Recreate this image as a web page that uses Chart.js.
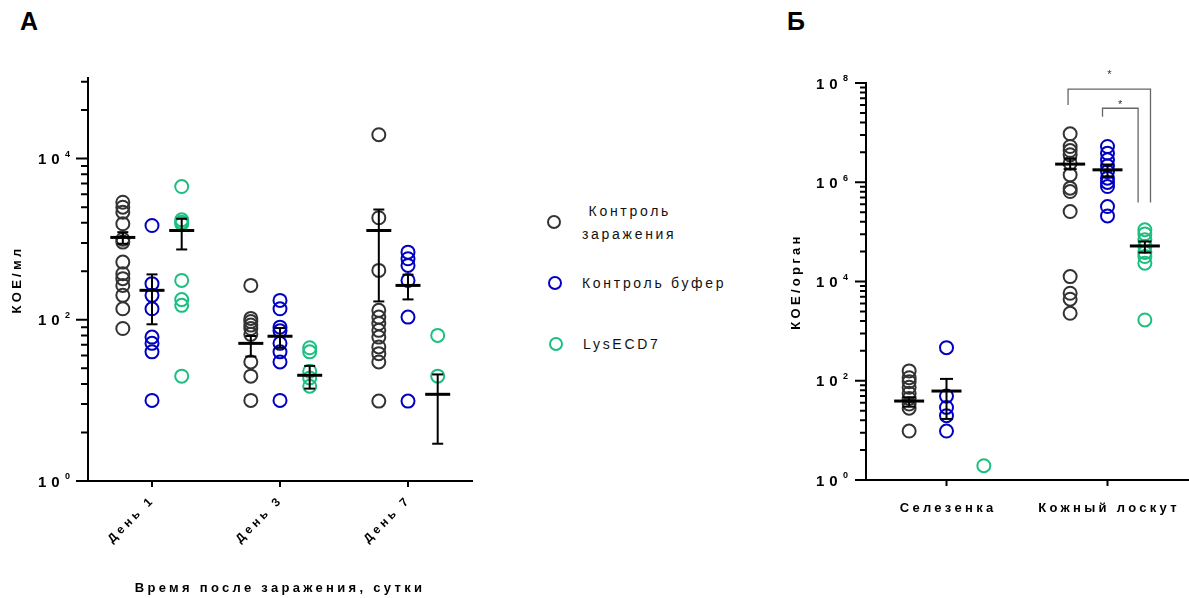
<!DOCTYPE html>
<html>
<head>
<meta charset="utf-8">
<script src="https://cdn.jsdelivr.net/npm/chart.js@4.4.1/dist/chart.umd.min.js"></script>
<style>
  body { margin: 0; background: #fff; font-family: "Liberation Sans", Arial, sans-serif; }
  #wrap { position: relative; width: 1189px; height: 598px; overflow: hidden; }
  canvas { position: absolute; top: 0; }
  .panel { position: absolute; top: 9px; font-weight: bold; font-size: 25px; line-height: 1; color: #000; }
  .lg { position: absolute; font-size: 14px; letter-spacing: 2.7px; color: #111; line-height: 23px; white-space: nowrap; }
  .dot { position: absolute; width: 10px; height: 10px; border-radius: 50%; border: 2.5px solid; }
</style>
</head>
<body>
<div id="wrap">
  <div class="panel" style="left:20px">А</div>
  <div class="panel" style="left:787px">Б</div>

  <div class="dot" style="left:547px;top:215px;border-color:#333333"></div>
  <div class="lg" style="left:582px;top:200px">&nbsp;Контроль<br>заражения</div>
  <div class="dot" style="left:548px;top:276px;border-color:#0000c4"></div>
  <div class="lg" style="left:582px;top:272px">Контроль буфер</div>
  <div class="dot" style="left:549px;top:337px;border-color:#1dbf80"></div>
  <div class="lg" style="left:583px;top:333px">LysECD7</div>

  <canvas id="chartA" width="480" height="598" style="left:0"></canvas>
  <canvas id="chartB" width="409" height="598" style="left:780px"></canvas>
</div>

<script>
const FONT = '"Liberation Sans", Arial, sans-serif';
const COLORS = ['#333333', '#0000c4', '#1dbf80'];

// ---- panel A: blood, CFU/ml by day ----
const daysA = ['День 1', 'День 3', 'День 7'];
const offsetsA = [-0.228, 0, 0.232];

const aInfected = [
  [2875, 2495, 2163, 1553, 1000, 920, 520, 373, 324, 267, 201, 137, 78],
  [267, 104, 95, 86, 78, 66, 30, 20, 10],
  [19800, 1845, 410, 131, 108, 90, 74, 61, 46, 38, 30, 9.8]
];
const aBuffer = [
  [1479, 281, 201, 137, 61, 51, 40, 10],
  [174, 137, 81, 73, 51, 40, 30, 10],
  [691, 572, 473, 308, 108, 9.8]
];
const aLys = [
  [4500, 1740, 1625, 1553, 308, 178, 151, 20],
  [45, 40, 23, 19, 15],
  [64, 20]
];

const aInfectedMean = [1052, 51, 1283];
const aInfectedLow = [878, 35, 169];
const aInfectedHigh = [1222, 63, 2335];
const aBufferMean = [232, 62.5, 267];
const aBufferLow = [88, 45, 179];
const aBufferHigh = [366, 79, 363];
const aLysMean = [1283, 20.5, 11.9];
const aLysLow = [746, 14, 2.9];
const aLysHigh = [1792, 26.8, 21];

const yMajorA = [1, 100, 10000];
const yExpA = ['0', '2', '4'];

// ---- panel B: organs, CFU/organ ----
const organsB = ['Селезенка', 'Кожный лоскут'];
const offsetsB = [-0.232, 0, 0.232];

const bInfected = [
  [158, 115, 96, 74, 56, 44, 34, 28, 9.7],
  [9.46e6, 5.25e6, 4.36e6, 3.57e6, 2.42e6, 1.41e6, 7.6e5, 6.5e5, 2.57e5, 12560, 5800, 4400, 2290]
];
const bBuffer = [
  [465, 49, 29, 19.8, 9.7],
  [5.25e6, 3.86e6, 2.83e6, 2.14e6, 1.64e6, 1.21e6, 9.9e5, 8.2e5, 3.24e5, 2.1e5]
];
const bLys = [
  [1.94],
  [1.1e5, 9.1e4, 6.9e4, 5.06e4, 3.83e4, 3.18e4, 2.34e4, 1680]
];

const bInfectedMean = [39, 2.32e6];
const bInfectedLow = [30, 1.84e6];
const bInfectedHigh = [46.5, 2.97e6];
const bBufferMean = [62, 1.78e6];
const bBufferLow = [17, 1.30e6];
const bBufferHigh = [109, 2.28e6];
const bLysMean = [null, 5.2e4];
const bLysLow = [null, 3.83e4];
const bLysHigh = [null, 6.4e4];

const yMajorB = [1, 100, 1e4, 1e6, 1e8];
const yExpB = ['0', '2', '4', '6', '8'];

// significance brackets (skin flap): infected vs LysECD7, buffer vs LysECD7
const bracketX = [[0.755, 0.755, 1.267, 1.267], [0.969, 0.969, 1.19, 1.19]];
const bracketY = [[3.6e7, 7.5e7, 7.5e7, 3.9e5], [2.1e7, 3.1e7, 3.1e7, 3.9e5]];
const starX = [1.011, 1.079];
const starY = [1.44e8, 3.56e7];

// minor ticks: n^2 steps inside each two-decade interval
function minorTicks(max) {
  const out = [];
  for (let b = 1; b < max; b *= 100) {
    for (let n = 2; n <= 9; n++) if (b * n * n <= max) out.push(b * n * n);
  }
  return out;
}

function circles(label, groups, off, color) {
  const data = [];
  groups.forEach((vals, c) => vals.forEach(v => data.push({ x: c + off, y: v })));
  return {
    label, data, order: 2,
    pointStyle: 'circle', pointRadius: 6.5, pointBorderWidth: 2,
    pointBorderColor: color, pointBackgroundColor: 'rgba(0,0,0,0)', showLine: false
  };
}

function errorSets(mean, low, high, off, halfMean, halfCap) {
  const m = [], caps = [], whisk = [];
  mean.forEach((v, c) => {
    if (v == null) return;
    m.push({ x: c + off, y: v });
    caps.push({ x: c + off, y: low[c] }, { x: c + off, y: high[c] });
    whisk.push({ x: c + off, y: low[c] }, { x: c + off, y: high[c] }, { x: c + off, y: null });
  });
  return [
    { data: m, order: 0, pointStyle: 'line', pointRadius: halfMean, pointBorderWidth: 3, pointBorderColor: '#000', showLine: false },
    { data: caps, order: 0, pointStyle: 'line', pointRadius: halfCap, pointBorderWidth: 2, pointBorderColor: '#000', showLine: false },
    { data: whisk, order: 0, showLine: true, spanGaps: false, borderColor: '#000', borderWidth: 2, pointRadius: 0 }
  ];
}

const axisDecor = {
  id: 'axisDecor',
  beforeDraw(chart) { chart.ctx.letterSpacing = '3.3px'; },
  afterDraw(chart, args, o) {
    const ctx = chart.ctx, xs = chart.scales.x, ys = chart.scales.y;
    const L = chart.chartArea.left, B = chart.chartArea.bottom;
    ctx.save();
    ctx.strokeStyle = '#000';
    ctx.fillStyle = '#000';
    ctx.lineWidth = 2;
    ctx.beginPath();
    o.minor.forEach(v => { const p = ys.getPixelForValue(v); ctx.moveTo(L - o.minorLen, p); ctx.lineTo(L, p); });
    o.major.forEach(v => { const p = ys.getPixelForValue(v); ctx.moveTo(L - o.majorLen, p); ctx.lineTo(L, p); });
    o.labels.forEach((t, i) => { const p = xs.getPixelForValue(i); ctx.moveTo(p, B); ctx.lineTo(p, B + 6); });
    ctx.stroke();

    // y labels 10^n
    ctx.textBaseline = 'middle';
    ctx.textAlign = 'left';
    o.major.forEach((v, i) => {
      const p = ys.getPixelForValue(v);
      ctx.font = 'bold 15px ' + FONT;
      ctx.letterSpacing = '5px';
      ctx.fillText('10', L - 50, p + 1.5);
      ctx.font = 'bold 9px ' + FONT;
      ctx.letterSpacing = '0px';
      ctx.fillText(o.exps[i], L - 23, p - 4);
    });

    // x labels
    o.labels.forEach((t, i) => {
      const p = xs.getPixelForValue(i);
      if (o.rotate) {
        ctx.save();
        ctx.translate(p + 1, B + 17);
        ctx.rotate(-Math.PI / 4);
        ctx.font = 'bold 12px ' + FONT;
        ctx.letterSpacing = '3.5px';
        ctx.textAlign = 'right';
        ctx.fillText(t, 0, 0);
        ctx.restore();
      } else {
        ctx.font = 'bold 13px ' + FONT;
        ctx.letterSpacing = '3.3px';
        ctx.textAlign = 'center';
        ctx.fillText(t, p + 1.6, B + 28);
      }
    });

    if (o.starX) {
      ctx.font = '11px ' + FONT;
      ctx.letterSpacing = '0px';
      ctx.textAlign = 'center';
      ctx.fillStyle = '#333';
      o.starX.forEach((x, i) => ctx.fillText('*', xs.getPixelForValue(x), ys.getPixelForValue(o.starY[i])));
    }
    ctx.restore();
  }
};

function titleOpts(text, pad) {
  return { display: !!text, text, color: '#000', font: { family: FONT, size: 13, weight: 'bold' }, padding: pad };
}

function makeChart(id, cfg) {
  return new Chart(document.getElementById(id), {
    type: 'scatter',
    data: { datasets: cfg.datasets },
    plugins: [axisDecor],
    options: {
      responsive: false,
      animation: false,
      devicePixelRatio: 1,
      events: [],
      layout: { autoPadding: false, padding: { top: cfg.top, right: cfg.right, left: 0, bottom: 0 } },
      plugins: {
        legend: { display: false },
        tooltip: { enabled: false },
        axisDecor: cfg.decor
      },
      scales: {
        x: {
          type: 'linear', min: -0.5, max: cfg.labels.length - 0.5,
          afterFit: s => { s.height = cfg.xHeight; },
          ticks: { display: false },
          grid: { display: false },
          border: { display: true, color: '#000', width: 2 },
          title: titleOpts(cfg.xTitle, { top: 0, bottom: 2 })
        },
        y: {
          type: 'logarithmic', min: 1, max: cfg.yMax,
          afterFit: s => { s.width = cfg.yWidth; },
          ticks: { display: false },
          grid: { display: false },
          border: { display: true, color: '#000', width: 2 },
          title: titleOpts(cfg.yTitle, { top: cfg.yTitlePad, bottom: 0 })
        }
      }
    }
  });
}

makeChart('chartA', {
  labels: daysA,
  top: 78, right: 8, xHeight: 117, yWidth: 88, yMax: 1e5, yTitlePad: 10,
  xTitle: 'Время после заражения, сутки', yTitle: 'КОЕ/мл',
  decor: { major: yMajorA, exps: yExpA, minor: minorTicks(1e5), majorLen: 12, minorLen: 7, labels: daysA, rotate: true },
  datasets: [
    ...errorSets(aInfectedMean, aInfectedLow, aInfectedHigh, offsetsA[0], 12.5, 5.5),
    ...errorSets(aBufferMean, aBufferLow, aBufferHigh, offsetsA[1], 12.5, 5.5),
    ...errorSets(aLysMean, aLysLow, aLysHigh, offsetsA[2], 12.5, 5.5),
    circles('Контроль заражения', aInfected, offsetsA[0], COLORS[0]),
    circles('Контроль буфер', aBuffer, offsetsA[1], COLORS[1]),
    circles('LysECD7', aLys, offsetsA[2], COLORS[2])
  ]
});

const bracketData = [];
bracketX.forEach((xs, k) => {
  xs.forEach((x, j) => bracketData.push({ x, y: bracketY[k][j] }));
  bracketData.push({ x: xs[0], y: null });
});

makeChart('chartB', {
  labels: organsB,
  top: 83, right: 1, xHeight: 118, yWidth: 86, yMax: 1e8, yTitlePad: 9,
  xTitle: '', yTitle: 'КОЕ/орган',
  decor: { major: yMajorB, exps: yExpB, minor: minorTicks(1e8), majorLen: 11, minorLen: 6, labels: organsB, rotate: false, starX, starY },
  datasets: [
    ...errorSets(bInfectedMean, bInfectedLow, bInfectedHigh, offsetsB[0], 15, 6.5),
    ...errorSets(bBufferMean, bBufferLow, bBufferHigh, offsetsB[1], 15, 6.5),
    ...errorSets(bLysMean, bLysLow, bLysHigh, offsetsB[2], 15, 6.5),
    circles('Контроль заражения', bInfected, offsetsB[0], COLORS[0]),
    circles('Контроль буфер', bBuffer, offsetsB[1], COLORS[1]),
    circles('LysECD7', bLys, offsetsB[2], COLORS[2]),
    { data: bracketData, order: 3, showLine: true, spanGaps: false, borderColor: '#666', borderWidth: 1.3, pointRadius: 0 }
  ]
});
</script>
</body>
</html>
